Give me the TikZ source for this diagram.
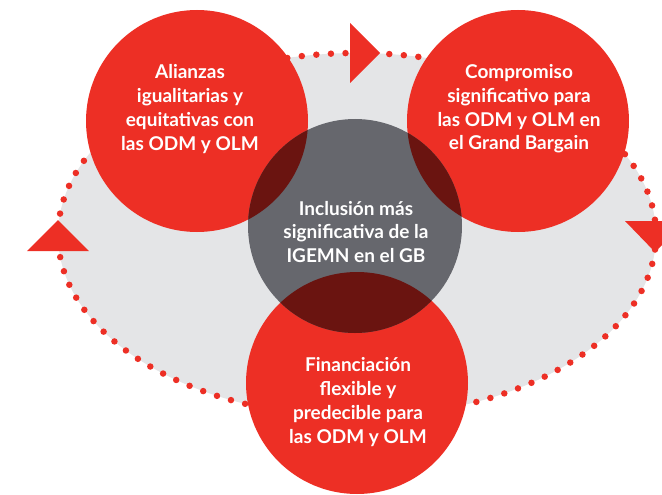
\documentclass[tikz,border=0pt]{standalone}
\usepackage{fontspec}
\setmainfont{Lato}
\definecolor{cred}{RGB}{237,47,37}
\definecolor{cdark}{RGB}{106,20,16}
\definecolor{cgray}{RGB}{102,103,109}
\definecolor{clight}{RGB}{228,229,231}
\tikzset{
  redcirc/.style={fill=cred, draw=none},
  lbl/.style={text=white, font=\fontsize{19}{23.7}\selectfont\bfseries, align=center, inner sep=0pt},
  tri/.style={fill=cred, draw=none},
}
\begin{document}
\begin{tikzpicture}[x=1pt,y=-1pt]
\useasboundingbox (0,0) rectangle (662,495);
% background ellipse and dotted loop
\fill[clight] (357,235) ellipse [x radius=299, y radius=182];
\draw[cred, line width=6.5pt, line cap=round, dash pattern=on 0pt off 14.6pt] (357,235) ellipse [x radius=299, y radius=182];
% arrow triangles
\fill[tri] (350,23) -- (380,53) -- (350,83) -- cycle;
\fill[tri] (27,251) -- (58,220) -- (89,251) -- cycle;
\fill[tri] (625,221) -- (655,252) -- (686,221) -- cycle;
% red circles
\coordinate (cA) at (197,121);
\coordinate (cB) at (518,121);
\coordinate (cC) at (357,383);
\coordinate (cM) at (355,226);
\fill[redcirc] (cA) circle [radius=111];
\fill[redcirc] (cB) circle [radius=111];
\fill[redcirc] (cC) circle [radius=111];
% centre circle with darker overlaps
\fill[cgray] (cM) circle [radius=107];
\begin{scope}
  \clip (cM) circle [radius=107];
  \fill[cdark] (cA) circle [radius=111];
  \fill[cdark] (cB) circle [radius=111];
  \fill[cdark] (cC) circle [radius=111];
\end{scope}
% labels
\node[lbl] (tA) at (190,109) {Alianzas\\igualitarias y\\equitativas con\\las ODM y OLM};
\node[lbl] (tB) at (519,109) {Compromiso\\significativo para\\las ODM y OLM en\\el Grand Bargain};
\node[lbl] (tM) at (356,232) {Inclusión más\\significativa de la\\IGEMN en el GB};
\node[lbl] (tC) at (358,402) {Financiación\\flexible y\\predecible para\\las ODM y OLM};
\end{tikzpicture}
\end{document}
